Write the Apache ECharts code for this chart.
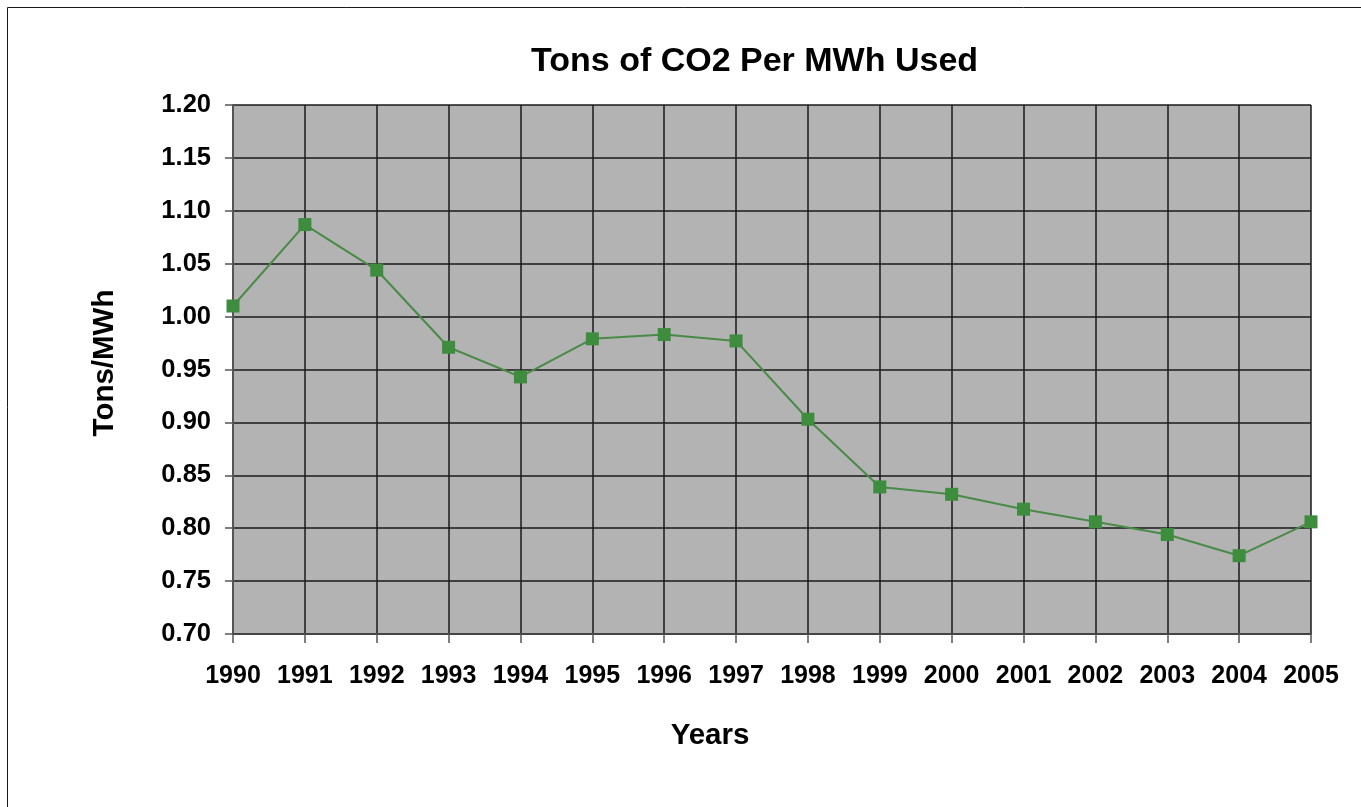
<!DOCTYPE html>
<html>
<head>
<meta charset="utf-8">
<title>Tons of CO2 Per MWh Used</title>
<script src="https://cdn.jsdelivr.net/npm/echarts@6/dist/echarts.min.js"></script>
<style>
  html, body { margin: 0; padding: 0; background: #fff; }
  #chart { width: 1361px; height: 807px; }
</style>
</head>
<body>
<div id="chart"></div>
<script>
// Emission intensity of electricity use, 1990-2005
const years = ['1990', '1991', '1992', '1993', '1994', '1995', '1996', '1997',
               '1998', '1999', '2000', '2001', '2002', '2003', '2004', '2005'];
const tonsPerMWh = [1.010, 1.087, 1.044, 0.971, 0.943, 0.979, 0.983, 0.977,
                    0.903, 0.839, 0.832, 0.818, 0.806, 0.794, 0.774, 0.806];
const yMin = 0.70;
const yMax = 1.20;
const yStep = 0.05;
const xTitle = 'Years';
const yTitle = 'Tons/MWh';

const FONT = '"Liberation Sans", Arial, Helvetica, sans-serif';
const nameStyle = { fontFamily: FONT, fontSize: 29.5, fontWeight: 'bold', fill: '#000' };

const chart = echarts.init(document.getElementById('chart'), null, { renderer: 'canvas' });

chart.setOption({
  backgroundColor: '#ffffff',
  animation: false,
  title: {
    text: 'Tons of CO2 Per MWh Used',
    left: 526,
    top: 40,
    textStyle: { fontFamily: FONT, fontSize: 34, fontWeight: 'bold', color: '#000' }
  },
  graphic: [
    {
      // outer chart frame
      type: 'rect',
      shape: { x: 7.5, y: 7.5, width: 1400, height: 850 },
      style: { fill: 'none', stroke: '#1a1a1a', lineWidth: 1 },
      silent: true,
      z: -10
    },
    {
      type: 'text',
      x: 710,
      y: 736,
      style: Object.assign({ text: xTitle, textAlign: 'center', textVerticalAlign: 'middle' }, nameStyle),
      silent: true
    },
    {
      type: 'text',
      x: 105,
      y: 363,
      rotation: Math.PI / 2,
      style: Object.assign({ text: yTitle, textAlign: 'center', textVerticalAlign: 'middle' }, nameStyle),
      silent: true
    }
  ],
  grid: {
    left: 233,
    top: 105,
    width: 1078,
    height: 529,
    show: true,
    backgroundColor: '#b3b3b3',
    borderWidth: 0
  },
  xAxis: {
    type: 'category',
    data: years,
    boundaryGap: false,
    axisLine: { show: true, lineStyle: { color: '#444', width: 2 } },
    axisTick: { show: true, interval: 0, length: 9, alignWithLabel: true, lineStyle: { color: '#555', width: 1.5 } },
    axisLabel: {
      interval: 0,
      margin: 30,
      fontFamily: FONT, fontSize: 25, fontWeight: 'bold', color: '#000'
    },
    splitLine: { show: true, interval: 0, lineStyle: { color: '#1a1a1a', width: 1.5 } }
  },
  yAxis: {
    type: 'value',
    min: yMin,
    max: yMax,
    interval: yStep,
    axisLine: { show: true, lineStyle: { color: '#555', width: 2 } },
    axisTick: { show: true, length: 8, lineStyle: { color: '#555', width: 1.5 } },
    axisLabel: {
      margin: 22,
      fontFamily: FONT, fontSize: 25.5, fontWeight: 'bold', color: '#000',
      formatter: v => v.toFixed(2)
    },
    splitLine: { show: true, lineStyle: { color: '#1a1a1a', width: 1.5 } }
  },
  series: [{
    type: 'line',
    data: tonsPerMWh,
    symbol: 'rect',
    symbolSize: 13,
    showAllSymbol: true,
    lineStyle: { color: '#4a8a48', width: 2 },
    itemStyle: { color: '#3e8c3e', borderWidth: 0 },
    z: 5
  }]
});
</script>
</body>
</html>
